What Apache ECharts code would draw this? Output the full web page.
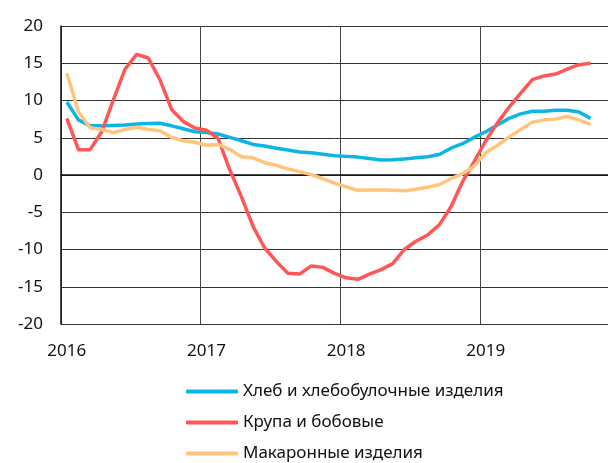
<!DOCTYPE html>
<html>
<head>
<meta charset="utf-8">
<script src="https://cdn.jsdelivr.net/npm/echarts@6/dist/echarts.min.js"></script>
<style>
  html, body { margin: 0; padding: 0; background: #fff; }
  #chart { width: 608px; height: 463px; }
</style>
</head>
<body>
<div id="chart"></div>
<script>
"use strict";

// месяцы с янв 2016 по ноя 2019
var years = ['2016', '2017', '2018', '2019'];
var months = [];
years.forEach(function(y) {
  for (var m = 1; m <= 12; m++) {
    if (months.length < 47) months.push(y + '-' + (m < 10 ? '0' + m : m));
  }
});

var seriesNames = ['Хлеб и хлебобулочные изделия', 'Крупа и бобовые', 'Макаронные изделия'];

var bread = [9.8, 7.4, 6.6, 6.6, 6.65, 6.7, 6.85, 6.9, 6.95, 6.6, 6.2, 5.8,
             5.7, 5.5, 5.05, 4.6, 4.1, 3.9, 3.6, 3.35, 3.1, 3.0, 2.8, 2.6,
             2.5, 2.4, 2.2, 2.0, 2.05, 2.15, 2.3, 2.45, 2.75, 3.6, 4.2, 5.05,
             5.8, 6.7, 7.6, 8.2, 8.55, 8.55, 8.7, 8.7, 8.45, 7.6];

var grits = [7.6, 3.4, 3.4, 5.8, 10.1, 14.2, 16.2, 15.7, 12.8, 8.8, 7.2, 6.3,
             6.0, 4.9, 0.7, -2.9, -6.9, -9.8, -11.6, -13.2, -13.3, -12.2, -12.4, -13.2,
             -13.8, -14.0, -13.3, -12.7, -11.9, -10.0, -8.9, -8.05, -6.7, -4.3, -0.9, 1.8,
             4.6, 7.0, 9.1, 11.0, 12.8, 13.3, 13.55, 14.2, 14.8, 15.0];

var pasta = [13.65, 8.5, 6.35, 6.1, 5.7, 6.1, 6.4, 6.1, 5.95, 5.05, 4.6, 4.4,
             4.0, 4.1, 3.45, 2.45, 2.3, 1.65, 1.3, 0.8, 0.45, 0.05, -0.5, -1.1,
             -1.6, -2.05, -2.0, -2.0, -2.05, -2.1, -1.9, -1.65, -1.3, -0.5, 0.15, 1.2,
             3.0, 4.0, 5.1, 6.1, 7.1, 7.4, 7.5, 7.85, 7.4, 6.8];

var colors = ['#0DB4E6', '#FF5656', '#FFC47E'];

var chart = echarts.init(document.getElementById('chart'));
var font = 'Noto Sans';

var option = {
  animation: false,
  color: colors,
  grid: {
    left: 61,
    right: 0,
    top: 26,
    bottom: 139
  },
  xAxis: {
    type: 'category',
    data: months,
    boundaryGap: true,
    axisLine: { show: true, lineStyle: { color: '#111', width: 1.5 } },
    axisTick: { show: false },
    axisLabel: {
      interval: function(i) { return i % 12 === 0; },
      formatter: function(v) { return v.slice(0, 4); },
      color: '#111',
      fontFamily: font,
      fontSize: 17,
      margin: 19
    },
    splitLine: {
      show: true,
      interval: function(i) { return i % 12 === 0; },
      lineStyle: { color: '#444', width: 1 }
    }
  },
  yAxis: {
    type: 'value',
    min: -20,
    max: 20,
    interval: 5,
    axisLine: { show: true, lineStyle: { color: '#111', width: 1.5 } },
    axisTick: { show: false },
    axisLabel: {
      color: '#111',
      fontFamily: font,
      fontSize: 17,
      margin: 18
    },
    splitLine: { show: true, lineStyle: { color: '#333', width: 1 } }
  },
  legend: {
    orient: 'vertical',
    left: 181,
    top: 378,
    height: 150,
    icon: 'roundRect',
    itemWidth: 52,
    itemHeight: 4,
    itemGap: 14,
    textStyle: { color: '#111', fontFamily: font, fontSize: 17 },
    data: seriesNames
  },
  series: [
    { name: seriesNames[0], type: 'line', data: bread, symbol: 'none', lineStyle: { width: 3.5 } },
    { name: seriesNames[1], type: 'line', data: grits, symbol: 'none', lineStyle: { width: 3.5 } },
    { name: seriesNames[2], type: 'line', data: pasta, symbol: 'none', lineStyle: { width: 3.5 } }
  ]
};

chart.setOption(option);
</script>
</body>
</html>
